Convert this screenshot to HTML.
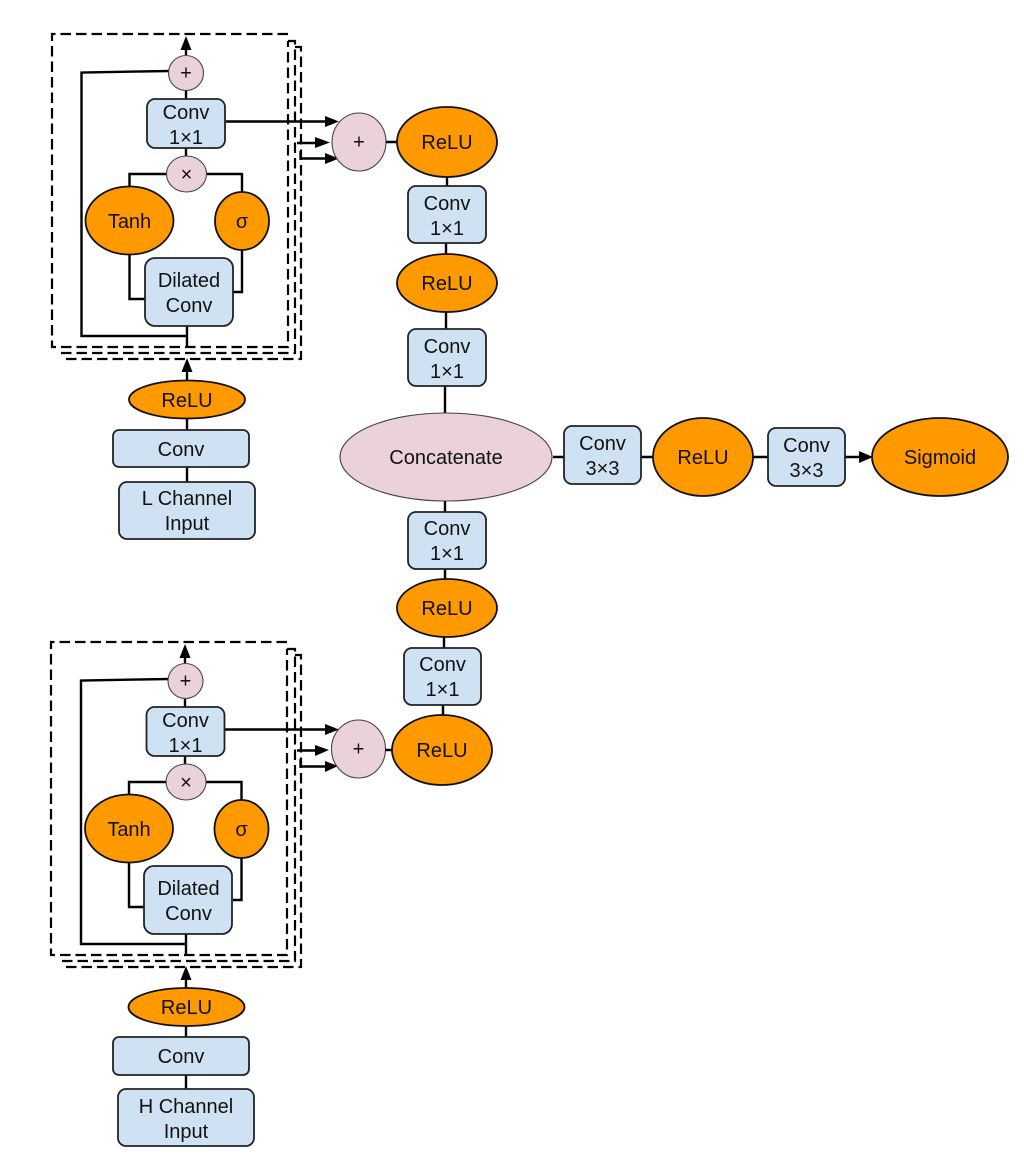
<!DOCTYPE html>
<html><head><meta charset="utf-8"><style>
html,body{margin:0;padding:0;background:#fff}
svg{display:block}
text{font-family:"Liberation Sans",sans-serif;font-size:20px;fill:#111;text-anchor:middle}
.b{fill:#cfe2f3;stroke:#222;stroke-width:1.8}
.o{fill:#ff9900;stroke:#111;stroke-width:1.8}
.p{fill:#ead1dc;stroke:#444;stroke-width:1.1}
.l{fill:none;stroke:#000;stroke-width:2.4}
.d{fill:none;stroke:#000;stroke-width:2.2;stroke-dasharray:10.5 5}
.a{fill:#000;stroke:none}
</style></head><body>
<svg width="1024" height="1160" viewBox="0 0 1024 1160" xmlns="http://www.w3.org/2000/svg">
<!-- TOP BLOCK -->
<path class="d" d="M288 34H52V347H288V41"/>
<path class="d" d="M288 41H295V353H58"/>
<path class="d" d="M295 47H301V359H65"/>
<path class="l" d="M169 71L81.500 72.500V336H187"/>
<path class="l" d="M187 326V347M186 55V48M186 90V99M186 148V157M129.500 187V174H167M242 192V174H207M129.500 255V299H145M242 250V292H233M226 121.500H326M297 143H316M300.500 151V158.500H325M187 387V370M187 419V430M187 467V482"/>
<polygon class="a" points="186,36 180.500,50 191.500,50"/>
<polygon class="a" points="187,358 181.500,372 192.500,372"/>
<polygon class="a" points="339,121.500 325,116 325,127"/>
<polygon class="a" points="330,142.500 315,137 315,148"/>
<polygon class="a" points="339,158.500 325,153 325,164"/>
<ellipse class="p" cx="186" cy="73" rx="17.500" ry="17.500"/><text x="186" y="79.500">+</text>
<rect class="b" x="147" y="99" width="78" height="49" rx="8"/><text x="186" y="119">Conv</text><text x="186" y="144">1×1</text>
<ellipse class="p" cx="186.500" cy="174" rx="20" ry="18"/><text x="186.500" y="181">×</text>
<ellipse class="o" cx="129.500" cy="220.500" rx="44" ry="34"/><text x="129.500" y="228">Tanh</text>
<ellipse class="o" cx="242" cy="221" rx="27" ry="29"/><text x="242" y="228">σ</text>
<rect class="b" x="145" y="258" width="88" height="68" rx="10"/><text x="189" y="287">Dilated</text><text x="189" y="312">Conv</text>
<ellipse class="p" cx="359" cy="142" rx="27" ry="29"/><text x="359" y="148.500">+</text>
<ellipse class="o" cx="187" cy="399.500" rx="58" ry="19"/><text x="187" y="407">ReLU</text>
<rect class="b" x="113" y="430" width="136" height="37" rx="6"/><text x="181" y="456">Conv</text>
<rect class="b" x="119" y="482" width="136" height="57" rx="8"/><text x="187" y="505">L Channel</text><text x="187" y="530">Input</text>

<!-- BOTTOM BLOCK -->
<path class="d" d="M287 642H51V955H287V649"/>
<path class="d" d="M287 649H295V961H58"/>
<path class="d" d="M295 655H301V967H64"/>
<path class="l" d="M169 679L81 680.500V944H186"/>
<path class="l" d="M186 934V955M185 663V656M185 698V707M185 756V765M129 795V782H166M241.500 800V782H206M129 863V907H144M241.500 858V900H233M225 729.500H326M297 750.500H316M300.500 759V766.500H325M186 989V978M186 1026V1037M186 1075V1089"/>
<polygon class="a" points="185,644 179.500,658 190.500,658"/>
<polygon class="a" points="186,966 180.500,980 191.500,980"/>
<polygon class="a" points="339,729.500 325,724 325,735"/>
<polygon class="a" points="329,750 315,745 315,756"/>
<polygon class="a" points="338,766 325,761 325,772"/>
<ellipse class="p" cx="185.500" cy="681" rx="17.500" ry="17.500"/><text x="185.500" y="687.500">+</text>
<rect class="b" x="146.500" y="707" width="78" height="49" rx="8"/><text x="185.500" y="727">Conv</text><text x="185.500" y="752">1×1</text>
<ellipse class="p" cx="186" cy="782" rx="20" ry="18"/><text x="186" y="789">×</text>
<ellipse class="o" cx="129" cy="828.500" rx="44" ry="34"/><text x="129" y="836">Tanh</text>
<ellipse class="o" cx="241.500" cy="829" rx="27" ry="29"/><text x="241.500" y="836">σ</text>
<rect class="b" x="144" y="866" width="88" height="68" rx="10"/><text x="188.500" y="895">Dilated</text><text x="188.500" y="920">Conv</text>
<ellipse class="p" cx="358.500" cy="749" rx="27" ry="29"/><text x="358.500" y="755.500">+</text>
<ellipse class="o" cx="186.500" cy="1007" rx="58" ry="19"/><text x="186.500" y="1014">ReLU</text>
<rect class="b" x="113" y="1037" width="136" height="38" rx="6"/><text x="181" y="1063">Conv</text>
<rect class="b" x="118" y="1089" width="136" height="57" rx="8"/><text x="186" y="1113">H Channel</text><text x="186" y="1138">Input</text>

<!-- CENTRE -->
<path class="l" d="M386 142H398M447 177V186M446 243V254M446 312V329M445 386V414M445 501V512M445 569V579M444 637V648M443 705V715M385 750H392M553 457H564M641 457H653M753 457H768M845 457H859"/>
<polygon class="a" points="873,457 859,451 859,463"/>
<ellipse class="o" cx="447" cy="142" rx="50" ry="35"/><text x="447" y="149">ReLU</text>
<rect class="b" x="408" y="186" width="78" height="57" rx="8"/><text x="447" y="210">Conv</text><text x="447" y="235">1×1</text>
<ellipse class="o" cx="447" cy="283" rx="50" ry="29"/><text x="447" y="290">ReLU</text>
<rect class="b" x="408" y="329" width="78" height="57" rx="8"/><text x="447" y="353">Conv</text><text x="447" y="378">1×1</text>
<ellipse class="p" cx="446" cy="457" rx="106" ry="44"/><text x="446" y="464">Concatenate</text>
<rect class="b" x="564" y="426" width="77" height="58" rx="8"/><text x="602.500" y="450">Conv</text><text x="602.500" y="475">3×3</text>
<ellipse class="o" cx="703" cy="457" rx="50" ry="39"/><text x="703" y="464">ReLU</text>
<rect class="b" x="768" y="428" width="77" height="58" rx="8"/><text x="806.500" y="452">Conv</text><text x="806.500" y="477">3×3</text>
<ellipse class="o" cx="940" cy="457" rx="68" ry="39"/><text x="940" y="464">Sigmoid</text>
<rect class="b" x="408" y="512" width="78" height="57" rx="8"/><text x="447" y="535">Conv</text><text x="447" y="560">1×1</text>
<ellipse class="o" cx="447" cy="608" rx="50" ry="29"/><text x="447" y="615">ReLU</text>
<rect class="b" x="404" y="648" width="77" height="57" rx="8"/><text x="442.500" y="671">Conv</text><text x="442.500" y="696">1×1</text>
<ellipse class="o" cx="442" cy="750" rx="50" ry="35"/><text x="442" y="757">ReLU</text>
</svg>
</body></html>
